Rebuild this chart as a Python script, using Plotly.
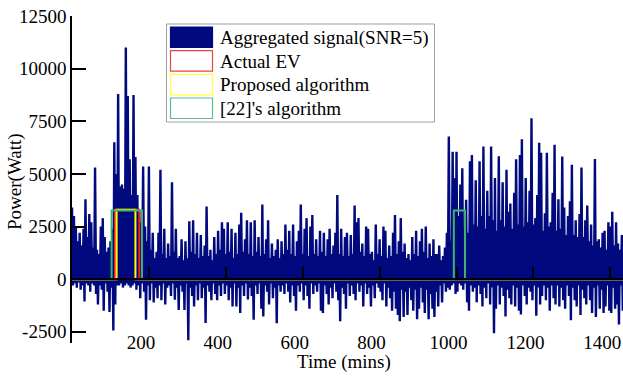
import plotly.graph_objects as go

# ---------------- data ----------------
# Aggregated signal: local peaks at t = 0,5,10,...  and troughs at t = 2.5, 7.5, ...
peak_w = [
    3400, 3000, 2500, 1800, 2200, 1600, 2400, 3800, 2000, 3100,
    2700, 1500, 5300, 1400, 1200, 2500, 2900, 2000, 1300, 1500,
    1800, 2400, 6500, 5000, 8800, 4400, 4500, 4300, 11000, 8700,
    5700, 4000, 8750, 5800, 4000, 3300, 2700, 5350, 2500, 1800,
    5350, 1400, 2200, 1000, 1300, 2200, 5200, 1200, 2400, 1000,
    1700, 1100, 4600, 1300, 2400, 1000, 1100, 1900, 900, 1800,
    1000, 2750, 1300, 2800, 1200, 2200, 1000, 2100, 1100, 1600,
    3450, 1100, 1400, 900, 2000, 1200, 2300, 1400, 2700, 2400,
    1200, 2700, 1300, 2400, 1000, 2200, 1200, 2600, 3150, 1300,
    1900, 2800, 1200, 2700, 1100, 2800, 1300, 2000, 1100, 3550,
    1200, 1900, 2800, 1000, 1700, 1100, 1400, 1900, 1000, 1800,
    1200, 2600, 1400, 2300, 1200, 2600, 1100, 1800, 2300, 3550,
    1200, 2400, 2900, 1100, 2500, 3050, 1200, 1900, 1100, 2300,
    1300, 2200, 1100, 1900, 2400, 1200, 1600, 2200, 4000, 1200,
    2400, 1100, 2000, 2200, 1100, 2100, 1200, 3500, 2700, 2900,
    1300, 1700, 1100, 2500, 2400, 1200, 1300, 900, 2600, 1200,
    1900, 1100, 2500, 2300, 1000, 1600, 1100, 2200, 3050, 1200,
    1800, 2900, 1300, 1700, 1000, 1200, 900, 2000, 1200, 2300,
    1100, 1800, 2400, 1300, 2500, 1000, 1700, 1100, 1900, 1200,
    1200, 1600, 900, 1100, 1500, 2200, 6780, 1800, 6050, 4800,
    6050, 3000, 4500, 5270, 2400, 3770, 2200, 5600, 5900, 2600,
    4700, 2500, 5600, 3000, 6300, 2400, 4200, 3000, 6300, 2800,
    4800, 2300, 5840, 2800, 4600, 2500, 5200, 3200, 3600, 2400,
    4100, 5700, 2600, 5900, 6650, 2500, 4800, 2700, 4200, 7640,
    2600, 2900, 4000, 6480, 6000, 2300, 3130, 6000, 2500, 2700,
    4100, 6380, 2300, 3800, 2400, 5830, 3400, 2100, 3000, 3700,
    5430, 2100, 2800, 2000, 3100, 5300, 2000, 2800, 3500, 1800,
    2600, 1600, 5710, 1800, 1900, 1500, 2200, 2300, 1400, 2700,
    2500, 3200, 1600, 2700, 1700, 1400, 2100, 1500,
]
trough_w = [
    -300, -200, -400, -150, -500, -300, -1060, -200, -300, -600,
    -200, -300, -700, -1200, -300, -500, -1500, -200, -600, -1560,
    -400, -2440, -1200, -300, -300, -200, -400, -300, -200, -300,
    -400, -300, -200, -500, -300, -900, -200, -600, -1930, -300,
    -1000, -200, -1100, -400, -900, -300, -1000, -200, -1200, -400,
    -300, -800, -200, -980, -400, -1460, -300, -600, -1460, -200,
    -2900, -400, -800, -1300, -300, -1000, -200, -900, -400, -2080,
    -300, -600, -1000, -200, -700, -1000, -300, -800, -200, -700,
    -300, -1000, -400, -1300, -200, -1300, -400, -1600, -300, -800,
    -200, -960, -400, -800, -1930, -300, -700, -200, -1400, -1770,
    -300, -600, -1200, -200, -900, -400, -2090, -300, -600, -300,
    -700, -200, -600, -1100, -300, -800, -1500, -300, -600, -200,
    -1000, -300, -800, -1400, -200, -700, -300, -600, -200, -1500,
    -1600, -300, -700, -1200, -400, -900, -200, -600, -1000, -2000,
    -400, -700, -1400, -200, -800, -300, -700, -1000, -200, -600,
    -300, -1300, -200, -700, -400, -1300, -300, -900, -200, -400,
    -600, -1000, -200, -1300, -400, -900, -1500, -600, -1400, -1700,
    -2000, -500, -1800, -600, -1700, -400, -1000, -1500, -500, -1900,
    -1400, -400, -1100, -1600, -500, -1900, -700, -1400, -1800, -600,
    -1300, -300, -1100, -200, -600, -400, -500, -300, -200, -700,
    -600, -200, -300, -500, -200, -1100, -1500, -300, -600, -400,
    -1100, -300, -700, -1300, -400, -900, -200, -1200, -400, -2570,
    -1400, -300, -1200, -400, -800, -1770, -500, -900, -1200, -300,
    -1300, -400, -1500, -1680, -300, -800, -1200, -400, -600, -1000,
    -300, -1740, -400, -1200, -800, -300, -1000, -400, -1500, -300,
    -900, -1200, -300, -1300, -400, -1000, -1400, -300, -800, -1950,
    -400, -1000, -1300, -300, -1700, -500, -900, -1200, -300, -1000,
    -1600, -400, -1800, -300, -1400, -500, -1600, -1300, -300, -1500,
    -1600, -400, -1400, -1200, -2150, -300, -1500, -1400,
]
sample_step_min = 5

actual_ev_t = [0, 112, 112, 175, 175, 1440]
actual_ev_w = [0, 0, 3300, 3300, 0, 0]
proposed_t = [0, 116, 116, 165, 165, 1440]
proposed_w = [0, 0, 3300, 3300, 0, 0]
ref22_t = [0, 103, 103, 182, 182, 993, 993, 1022, 1022, 1440]
ref22_w = [0, 0, 3260, 3260, 0, 0, 3260, 3260, 0, 0]

x_ticks = [200, 400, 600, 800, 1000, 1200, 1400]
y_ticks = [-2500, 0, 2500, 5000, 7500, 10000, 12500]
legend_labels = ["Aggregated signal(SNR=5)", "Actual EV", "Proposed algorithm", "[22]'s algorithm"]

# ---------------- build signal ----------------
sig_t, sig_w = [], []
for i, (p, q) in enumerate(zip(peak_w, trough_w)):
    sig_t += [i * sample_step_min, i * sample_step_min + sample_step_min / 2]
    sig_w += [p, q]

NAVY = "#000A7E"
RED = "#FF1A1A"
YELLOW = "#FFFF00"
GREEN = "#3CB371"
FONT = "Liberation Serif"

X_RANGE = [0, 1433]
Y_RANGE = [-3030, 12500]

fig = go.Figure()
fig.add_trace(go.Scatter(x=sig_t, y=sig_w, mode="lines",
                         line=dict(color=NAVY, width=2.4), name=legend_labels[0],
                         showlegend=False))
fig.add_trace(go.Scatter(x=actual_ev_t, y=actual_ev_w, mode="lines", xaxis="x2",
                         line=dict(color=RED, width=2), name=legend_labels[1], showlegend=False))
fig.add_trace(go.Scatter(x=proposed_t, y=proposed_w, mode="lines", xaxis="x2",
                         line=dict(color=YELLOW, width=2), name=legend_labels[2], showlegend=False))
fig.add_trace(go.Scatter(x=ref22_t, y=ref22_w, mode="lines", xaxis="x2",
                         line=dict(color=GREEN, width=2), name=legend_labels[3], showlegend=False))

zero_pos = (0 - Y_RANGE[0]) / (Y_RANGE[1] - Y_RANGE[0])

fig.update_layout(
    width=623, height=377,
    margin=dict(l=72, r=0, t=16, b=34),
    paper_bgcolor="white", plot_bgcolor="white",
    font=dict(family=FONT, size=19, color="black"),
    xaxis=dict(range=X_RANGE, showgrid=False, zeroline=False, showline=False,
               ticks="", tickvals=x_ticks, ticktext=[str(v) for v in x_ticks],
               tickfont=dict(family=FONT, size=19, color="black"),
               ticklabelshift=-8, ticklabelstandoff=-14),
    xaxis2=dict(range=X_RANGE, overlaying="x", anchor="free", position=zero_pos,
                showgrid=False, zeroline=False, showline=True, linecolor="black",
                linewidth=1.5, ticks="inside", ticklen=11, tickwidth=1.5,
                tickcolor="black", tickvals=x_ticks, showticklabels=False,
                layer="above traces"),
    yaxis=dict(range=Y_RANGE, showgrid=False, zeroline=False, showline=True,
               linecolor="black", linewidth=1.5, ticks="inside", ticklen=14,
               tickwidth=1.5, tickcolor="black", tickvals=y_ticks,
               ticktext=[str(v) for v in y_ticks],
               tickfont=dict(family=FONT, size=19, color="black")),
    showlegend=False,
)

# axis titles
fig.add_annotation(text="Time (mins)", xref="paper", yref="paper",
                   x=(343.5 - 72) / 551, y=(343 - 362) / 327,
                   showarrow=False, font=dict(family=FONT, size=19),
                   xanchor="center", yanchor="middle")
fig.add_annotation(text="Power(Watt)", xref="paper", yref="paper",
                   x=(15 - 72) / 551, y=(343 - 182) / 327, textangle=-90,
                   showarrow=False, font=dict(family=FONT, size=19),
                   xanchor="center", yanchor="middle")

# manual legend (paper coords from pixel positions)
def px(xp):
    return (xp - 72) / 551

def py(yp):
    return (343 - yp) / 327

fig.add_shape(type="rect", xref="paper", yref="paper",
              x0=px(166.5), x1=px(434.5), y0=py(24), y1=py(122),
              line=dict(color="#A0A0A0", width=1), fillcolor="white", layer="above")
legend_styles = [(NAVY, NAVY), ("white", "#F04040"), ("white", "#FFFF40"), ("white", "#5CC08A")]
row_tops = [27, 50.7, 74.3, 98]
for lab, (fc, lc), top in zip(legend_labels, legend_styles, row_tops):
    fig.add_shape(type="rect", xref="paper", yref="paper",
                  x0=px(170.5), x1=px(212.5), y0=py(top), y1=py(top + 20.5),
                  line=dict(color=lc, width=1.2), fillcolor=fc, layer="above")
    fig.add_annotation(text=lab, xref="paper", yref="paper",
                       x=px(218), y=py(top + 10.5), xanchor="left", yanchor="middle",
                       showarrow=False, font=dict(family=FONT, size=19))

fig.write_html("out.html")
